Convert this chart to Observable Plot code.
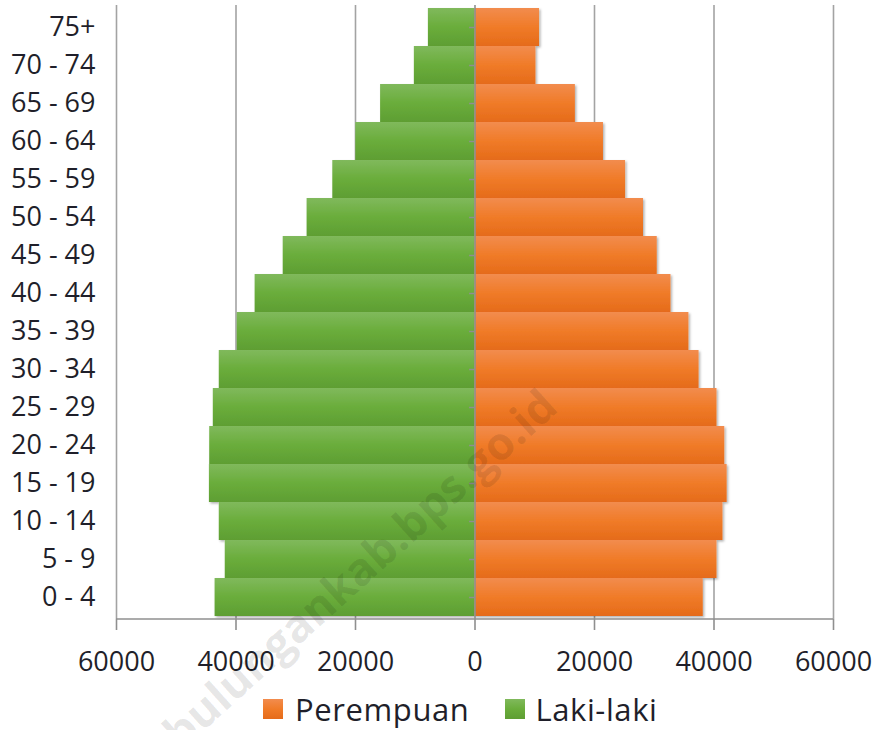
<!DOCTYPE html>
<html>
<head>
<meta charset="utf-8">
<script src="https://cdn.jsdelivr.net/npm/d3@7"></script>
<script src="https://cdn.jsdelivr.net/npm/@observablehq/plot@0.6"></script>
<style>
  html, body { margin: 0; padding: 0; background: #fff; }
  #wrap { position: relative; width: 881px; height: 730px; overflow: hidden; background: #fff; }
  #legend { position: absolute; left: 263px; top: 689px; display: flex; align-items: center;
            font-family: "Open Sans", sans-serif; font-size: 31px; color: #1f1f2a; line-height: 40px; }
  .sw { width: 20px; height: 20px; display: inline-block; }
  #wm { position: absolute; left: 0; top: 0; pointer-events: none; }
</style>
</head>
<body>
<div id="wrap">
  <div id="chart"></div>
  <div id="legend">
    <span class="sw" style="background:linear-gradient(#f28c4e,#f07b28 50%,#e56b1a)"></span>
    <span style="margin-left:12px;letter-spacing:0.6px">Perempuan</span>
    <span class="sw" style="margin-left:36px;background:linear-gradient(#80b95c,#6aad3b 50%,#5e9e33)"></span>
    <span style="margin-left:10px;letter-spacing:0.6px">Laki-laki</span>
  </div>
  <svg id="wm" width="881" height="730">
    <text transform="translate(560,410) rotate(-42)" text-anchor="end"
          font-family="Open Sans" font-weight="bold" font-size="45" fill="#000" fill-opacity="0.1">bulungankab.bps.go.id</text>
  </svg>
</div>
<script>
const ageGroups = ["75+", "70 - 74", "65 - 69", "60 - 64", "55 - 59", "50 - 54", "45 - 49", "40 - 44",
                   "35 - 39", "30 - 34", "25 - 29", "20 - 24", "15 - 19", "10 - 14", "5 - 9", "0 - 4"];
const lakiLaki  = [7800, 10150, 15800, 19950, 23800, 28100, 32100, 36800,
                   39800, 42800, 43800, 44400, 44450, 42800, 41800, 43500];
const perempuan = [10800, 10200, 16800, 21500, 25200, 28200, 30500, 32800,
                   35800, 37500, 40500, 41800, 42200, 41500, 40500, 38200];
const xTicks = [-60000, -40000, -20000, 0, 20000, 40000, 60000];
const gridTicks = [-60000, -40000, -20000, 20000, 40000, 60000];

const data = ageGroups.map((age, i) => ({age, laki: lakiLaki[i], perempuan: perempuan[i]}));

const chart = Plot.plot({
  width: 881,
  height: 680,
  marginLeft: 116,
  marginRight: 48,
  marginTop: 5,
  marginBottom: 61,
  style: {fontFamily: "Open Sans, sans-serif", fontSize: "27px", color: "#1f1f2a", background: "white"},
  x: {domain: [-60000, 60000], label: null},
  y: {domain: ageGroups, padding: 0, label: null},
  marks: [
    Plot.ruleX(gridTicks, {stroke: "#a3a3a3", strokeWidth: 1.6}),
    Plot.barX(data, {y: "age", x1: 0, x2: d => -d.laki, fill: "url(#gradGreen)"}),
    Plot.barX(data, {y: "age", x1: 0, x2: "perempuan", fill: "url(#gradOrange)"}),
    Plot.ruleX([0], {stroke: "#8f8f8f", strokeWidth: 1.6}),
    Plot.ruleY(ageGroups, {y: d => d, x1: -900, x2: 0, stroke: "#8f8f8f", strokeWidth: 1.5}),
    Plot.axisX({ticks: xTicks, tickFormat: d => String(Math.abs(d)), tickSize: 11, tickPadding: 21,
                stroke: "#8f8f8f", strokeWidth: 1.6, fill: "#1f1f2a", fontSize: 27, label: null}),
    Plot.axisY({tickSize: 0, tickPadding: 21, fill: "#1f1f2a", fontSize: 27, label: null})
  ]
});

const svg = d3.select(chart);
const defs = svg.insert("defs", ":first-child");
function grad(id, stops) {
  const g = defs.append("linearGradient").attr("id", id)
    .attr("x1", 0).attr("y1", 0).attr("x2", 0).attr("y2", 1);
  stops.forEach(([o, c]) => g.append("stop").attr("offset", o).attr("stop-color", c));
}
grad("gradGreen", [[0, "#80b95c"], [0.5, "#6aad3b"], [1, "#5e9e33"]]);
grad("gradOrange", [[0, "#f28c4e"], [0.5, "#f07b28"], [1, "#e56b1a"]]);
const f = defs.append("filter").attr("id", "shadow").attr("x", "-5%").attr("y", "-20%")
  .attr("width", "115%").attr("height", "150%");
f.append("feDropShadow").attr("dx", 1.5).attr("dy", 1.5).attr("stdDeviation", 1.2)
  .attr("flood-color", "#000").attr("flood-opacity", 0.3);
svg.selectAll("g[aria-label='bar']").attr("filter", "url(#shadow)");

// bottom axis line, placed with the plot's own x scale
const xs = chart.scale("x");
const yBottom = 680 - 61;
svg.append("line")
  .attr("x1", xs.apply(-60000)).attr("x2", xs.apply(60000))
  .attr("y1", yBottom).attr("y2", yBottom)
  .attr("stroke", "#8f8f8f").attr("stroke-width", 1.6);

document.getElementById("chart").appendChild(chart);
</script>
</body>
</html>
